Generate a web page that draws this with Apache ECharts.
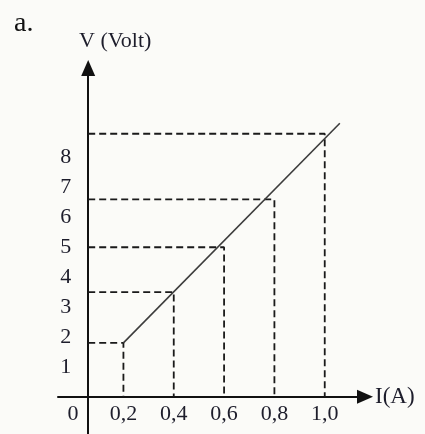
<!DOCTYPE html>
<html><head><meta charset="utf-8">
<script src="https://cdn.jsdelivr.net/npm/echarts@6/dist/echarts.min.js"></script>
<style>html,body{margin:0;padding:0;background:#fbfbf8}#c{width:425px;height:434px}</style>
</head><body><div id="c"></div>
<script>
// ---- data ----
const currentA = [0.2, 0.4, 0.6, 0.8, 1.0];          // I (A)
const voltageV = [1.8, 3.5, 5.0, 6.6, 8.8];          // V (Volt)
const xTickValues = [0, 0.2, 0.4, 0.6, 0.8, 1.0];
const xTickLabels = ['0', '0,2', '0,4', '0,6', '0,8', '1,0'];
const yTickValues = [1, 2, 3, 4, 5, 6, 7, 8];
const yTickLabels = ['1', '2', '3', '4', '5', '6', '7', '8'];
const trendStart = [0.2, 1.8];
const trendEnd = [1.06, 9.15];

// ---- layout / style ----
const X_MIN = -0.06, X_MAX = 1.16, Y_MIN = -1.25, Y_MAX = 11;
const Y_AXIS_AT = 0.06;   // I value where the vertical axis line is drawn
const X_AXIS_AT = 0;      // V value where the horizontal axis line is drawn
const W = 425, H = 434;
const GRID = {left: 58, right: 60, top: 68, bottom: 0};
const gridW = W - GRID.left - GRID.right;
const gridH = H - GRID.top - GRID.bottom;
const yAxisShift = (Y_AXIS_AT - X_MIN) / (X_MAX - X_MIN) * gridW;
const xAxisShift = (X_AXIS_AT - Y_MIN) / (Y_MAX - Y_MIN) * gridH;
const FONT = 'Liberation Serif';
const TXT = '#1d1d2b';
const AX = '#111';

function lookup(vals, labels, v) {
  for (let i = 0; i < vals.length; i++) if (Math.abs(vals[i] - v) < 1e-9) return labels[i];
  return '';
}

const guideSeries = currentA.map((x, k) => ({
  type: 'line',
  data: [[Y_AXIS_AT, voltageV[k]], [x, voltageV[k]], [x, X_AXIS_AT]],
  showSymbol: false, silent: true, animation: false,
  lineStyle: {color: '#1a1a1a', width: 1.8, type: [7, 4]},
  z: 3
}));

const chart = echarts.init(document.getElementById('c'), null, {renderer: 'canvas'});
chart.setOption({
  backgroundColor: '#fbfbf8',
  animation: false,
  title: [
    {text: 'a.', left: 9, top: 5, textStyle: {fontFamily: FONT, fontSize: 28, fontWeight: 'normal', color: '#111'}},
    {text: 'V (Volt)', left: 74, top: 25, textStyle: {fontFamily: FONT, fontSize: 22, fontWeight: 'normal', color: TXT}}
  ],
  grid: Object.assign({containLabel: false, outerBoundsMode: 'none'}, GRID),
  xAxis: {
    type: 'value', min: X_MIN, max: X_MAX,
    offset: -xAxisShift,
    name: 'I(A)', nameLocation: 'end', nameGap: 10,
    nameTextStyle: {fontFamily: FONT, fontSize: 23, color: TXT, verticalAlign: 'middle'},
    axisLine: {show: true, onZero: false, symbol: ['none', 'triangle'], symbolSize: [14, 16],
      lineStyle: {color: AX, width: 2}},
    axisTick: {show: false},
    splitLine: {show: false},
    axisLabel: {customValues: xTickValues, margin: 7, fontFamily: FONT, fontSize: 22, color: TXT,
      formatter: v => lookup(xTickValues, xTickLabels, v)}
  },
  yAxis: {
    type: 'value', min: Y_MIN, max: Y_MAX,
    offset: -yAxisShift,
    axisLine: {show: true, onZero: false, symbol: ['none', 'triangle'], symbolSize: [14, 16],
      lineStyle: {color: AX, width: 2}},
    axisTick: {show: false},
    splitLine: {show: false},
    axisLabel: {customValues: yTickValues, margin: 17, fontFamily: FONT, fontSize: 22, color: TXT,
      formatter: v => lookup(yTickValues, yTickLabels, v)}
  },
  series: guideSeries.concat([{
    type: 'line',
    data: [trendStart, trendEnd],
    showSymbol: false, silent: true,
    lineStyle: {color: '#3c3c3c', width: 1.6},
    z: 4
  }])
});
</script></body></html>
